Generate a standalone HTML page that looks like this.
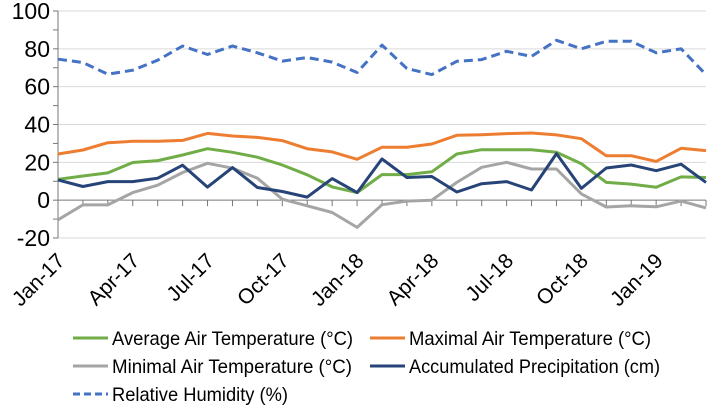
<!DOCTYPE html>
<html><head><meta charset="utf-8"><style>
body{margin:0;background:#fff}
svg{display:block;font-family:"Liberation Sans",sans-serif}
</style></head><body>
<svg id="chart" width="708" height="406" viewBox="0 0 708 406">
<g id="grid"></g>
<g id="yaxis"></g>
<g id="xaxis"></g>
<g id="series"></g>
<g id="legend"></g>
</svg>
<script>
const months = ["Jan-17","Feb-17","Mar-17","Apr-17","May-17","Jun-17","Jul-17","Aug-17","Sep-17","Oct-17","Nov-17","Dec-17","Jan-18","Feb-18","Mar-18","Apr-18","May-18","Jun-18","Jul-18","Aug-18","Sep-18","Oct-18","Nov-18","Dec-18","Jan-19","Feb-19","Mar-19"];
const xTickLabels = ["Jan-17","Apr-17","Jul-17","Oct-17","Jan-18","Apr-18","Jul-18","Oct-18","Jan-19"];
const yTicks = [-20,0,20,40,60,80,100];
const avgTemp = [11,12.8,14.4,19.9,20.9,23.9,27.2,25.3,22.7,18.6,13.4,7,4,13.5,13.5,15,24.4,26.7,26.7,26.7,25.3,19.3,9.4,8.5,6.8,12.3,12];
const maxTemp = [24.4,26.5,30.4,31.1,31.1,31.6,35.3,33.9,33.2,31.5,27.2,25.5,21.6,28,28,29.7,34.3,34.6,35.2,35.5,34.5,32.5,23.5,23.5,20.5,27.4,26.2];
const minTemp = [-10.4,-2.5,-2.5,4,7.9,14.6,19.5,16.9,11.6,0.5,-3,-6.5,-14.4,-2.4,-0.5,0,9.4,17.4,20,16.5,16.5,3.3,-3.6,-3,-3.5,-0.5,-4.1];
const precip = [10.7,7.2,9.8,9.8,11.6,18.5,6.9,17.2,6.7,4.6,1.6,11.4,4,21.8,12,12.5,4.3,8.7,9.8,5.4,24.6,6.2,17,18.6,15.6,19,9.4];
const humidity = [74.5,72.8,66.6,68.7,74,81.5,77,81.5,77.9,73.5,75.4,73,67.5,82,69.6,66.4,73.4,74.3,78.7,76,84.5,80,84,84,77.9,80,66.4];

const NS="http://www.w3.org/2000/svg";
const x0=58,x1=706,yTop=11,yBot=238,vMin=-20,vMax=100;
function xs(i){return x0+(x1-x0)*i/(months.length-1);}
function ys(v){return yBot-(v-vMin)*(yBot-yTop)/(vMax-vMin);}
function mk(tag,parent,attrs){const e=document.createElementNS(NS,tag);for(const k in attrs)e.setAttribute(k,attrs[k]);parent.appendChild(e);return e;}
const grid=document.getElementById('grid'),yax=document.getElementById('yaxis'),xax=document.getElementById('xaxis'),ser=document.getElementById('series'),leg=document.getElementById('legend');

yTicks.forEach(v=>{
  if(v!==0){const g=mk('line',grid,{x1:x0,x2:x1,y1:ys(v),y2:ys(v),stroke:'#d9d9d9','stroke-width':1});
  
  }
  const t=mk('text',yax,{x:x0-8,y:ys(v)+8,'text-anchor':'end','font-size':23,fill:'#000'});
  t.textContent=v;
  
  
});
for(let v=vMin;v<=vMax;v+=10){mk('line',yax,{x1:x0-5,x2:x0,y1:ys(v),y2:ys(v),stroke:'#777','stroke-width':1});}
mk('line',yax,{x1:x0,x2:x0,y1:yTop,y2:yBot,stroke:'#777','stroke-width':1});
mk('line',xax,{x1:x0,x2:x1,y1:ys(0),y2:ys(0),stroke:'#777','stroke-width':1});
months.forEach((m,i)=>{mk('line',xax,{x1:xs(i),x2:xs(i),y1:ys(0),y2:ys(0)+6,stroke:'#777','stroke-width':1});});
xTickLabels.forEach(lbl=>{
  const i=months.indexOf(lbl);const X=xs(i)+8,Y=262;
  const t=mk('text',xax,{x:X,y:Y,'text-anchor':'end','font-size':21,transform:`rotate(-45 ${X} ${Y})`});
  t.textContent=lbl;
  
  
});

const defs=[
  {name:'avg-temp-line',data:avgTemp,color:'#70ad47',dash:null,label:'Average Air Temperature (°C)',lx:73,ly:338,w:241},
  {name:'max-temp-line',data:maxTemp,color:'#ed7d31',dash:null,label:'Maximal Air Temperature (°C)',lx:370,ly:338,w:242},
  {name:'min-temp-line',data:minTemp,color:'#a5a5a5',dash:null,label:'Minimal Air Temperature (°C)',lx:73,ly:366,w:240},
  {name:'precip-line',data:precip,color:'#264478',dash:null,label:'Accumulated Precipitation (cm)',lx:370,ly:366,w:251},
  {name:'humidity-line',data:humidity,color:'#4472c4',dash:'9,5',label:'Relative Humidity (%)',lx:73,ly:394,w:176}
];
const order=['min-temp-line','avg-temp-line','max-temp-line','precip-line','humidity-line'];
order.forEach(n=>{
  const d=defs.find(s=>s.name===n);
  const pts=d.data.map((v,i)=>xs(i).toFixed(1)+','+ys(v).toFixed(1)).join(' ');
  const a={points:pts,fill:'none',stroke:d.color,'stroke-width':3,'stroke-linejoin':'round'};
  if(d.dash)a['stroke-dasharray']=d.dash;
  const p=mk('polyline',ser,a);
  
  
});
defs.forEach(d=>{
  const g=mk('g',leg,{});
  
  
  const a={x1:d.lx,x2:d.lx+35,y1:d.ly,y2:d.ly,stroke:d.color,'stroke-width':3};
  if(d.dash)a['stroke-dasharray']='7,4';
  mk('line',g,a);
  const t=mk('text',g,{x:d.lx+39,y:d.ly+7,'font-size':19.5,fill:'#000',textLength:d.w,lengthAdjust:'spacingAndGlyphs'});
  t.textContent=d.label;
});
</script>
</body></html>
